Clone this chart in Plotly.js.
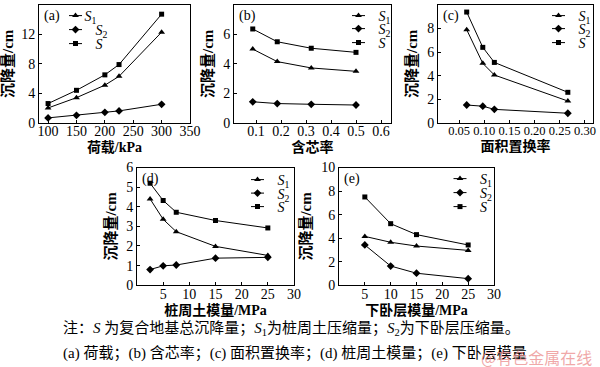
<!DOCTYPE html>
<html>
<head>
<meta charset="utf-8">
<script src="https://cdn.plot.ly/plotly-3.0.1.min.js"></script>
<style>html,body{margin:0;padding:0;background:#fff;}#chart{width:600px;height:367px;}</style>
</head>
<body>
<div id="chart"></div>
<script>
// ---- data ----
const seriesNames = ['<i>S</i><sub>1</sub>', '<i>S</i><sub>2</sub>', '<i>S</i>'];

const loadX  = [100, 150, 200, 225, 300];
const loadS1 = [2.0, 3.4, 5.1, 6.3, 12.3];
const loadS2 = [0.65, 1.0, 1.4, 1.6, 2.5];
const loadS  = [2.6, 4.4, 6.5, 7.9, 14.75];
const loadTicks = [100, 150, 200, 250, 300, 350];

const coreX  = [0.087, 0.185, 0.321, 0.5];
const coreS1 = [5.0, 4.15, 3.72, 3.49];
const coreS2 = [1.42, 1.3, 1.25, 1.2];
const coreS  = [6.37, 5.5, 5.06, 4.78];
const coreTicks = [0.1, 0.2, 0.3, 0.4, 0.5, 0.6];

const areaX  = [0.065, 0.097, 0.12, 0.266];
const areaS1 = [7.9, 5.04, 4.05, 1.84];
const areaS2 = [1.5, 1.4, 1.13, 0.8];
const areaS  = [9.4, 6.4, 5.12, 2.58];
const areaTicks = [0.05, 0.10, 0.15, 0.20, 0.25, 0.30];

const soilX  = [2.5, 5, 7.5, 15, 25];
const soilS1 = [4.4, 3.36, 2.73, 1.98, 1.52];
const soilS2 = [0.8, 0.99, 1.03, 1.38, 1.42];
const soilS  = [5.2, 4.32, 3.72, 3.3, 2.92];
const soilTicks = [5, 10, 15, 20, 25, 30];

const lowerX  = [5, 10, 15, 25];
const lowerS1 = [4.15, 3.65, 3.33, 2.96];
const lowerS2 = [3.42, 1.63, 1.02, 0.56];
const lowerS  = [7.5, 5.23, 4.3, 3.42];
const lowerTicks = [5, 10, 15, 20, 25, 30];

const panelLabels = ['(a)', '(b)', '(c)', '(d)', '(e)'];
const xTitles = ['荷载/kPa', '含芯率', '面积置换率', '桩周土模量/MPa', '下卧层模量/MPa'];
const yTitle = '沉降量/cm';
const captionLine1 = '注：<i>S</i> 为复合地基总沉降量；<i>S</i><sub>1</sub>为桩周土压缩量；<i>S</i><sub>2</sub>为下卧层压缩量。';
const captionLine2 = '(a) 荷载；(b) 含芯率；(c) 面积置换率；(d) 桩周土模量；(e) 下卧层模量';
const watermark = '@有色金属在线';

// ---- layout geometry (pixels in 600x367) ----
const W = 600, H = 367;
const boxes = [
  {l: 39,  r: 190, t: 4,   b: 122},
  {l: 234, r: 391, t: 4,   b: 122},
  {l: 438, r: 593, t: 4,   b: 122},
  {l: 137, r: 294, t: 167, b: 285},
  {l: 339, r: 494, t: 167, b: 285}
];
const panels = [
  {x: loadX,  ys: [loadS1, loadS2, loadS],    xr: [84, 350],      xt: loadTicks,  linear: false, xf: '',    xs: 14, yr: [0, 16], yd: 4},
  {x: coreX,  ys: [coreS1, coreS2, coreS],    xr: [0.012, 0.64],  xt: coreTicks,  linear: false, xf: '.1f', xs: 14, yr: [0, 8],  yd: 2},
  {x: areaX,  ys: [areaS1, areaS2, areaS],    xr: [0.008, 0.316], xt: areaTicks,  linear: true,  xf: '.2f', xs: 12.5, yr: [0, 10], yd: 2},
  {x: soilX,  ys: [soilS1, soilS2, soilS],    xr: [0, 30],        xt: soilTicks,  linear: false, xf: '',    xs: 14, yr: [0, 6],  yd: 1},
  {x: lowerX, ys: [lowerS1, lowerS2, lowerS], xr: [0, 30],        xt: lowerTicks, linear: false, xf: '',    xs: 14, yr: [0, 10], yd: 2}
];
// legend item anchors: marker centre x, first row y, row step
const legendPos = [
  {x: 75.5, y: 16,  dy: 14},
  {x: 358.5, y: 15, dy: 14},
  {x: 558.5, y: 15, dy: 14},
  {x: 257.5, y: 180, dy: 13.5},
  {x: 460, y: 179, dy: 14}
];
const markerSymbols = ['triangle-up', 'diamond', 'square'];
const serif = 'Liberation Serif';
const cjk = 'Liberation Serif, Noto Sans CJK SC';

const traces = [];
const layout = {
  width: W, height: H,
  margin: {l: 0, r: 0, t: 0, b: 0},
  paper_bgcolor: '#fff', plot_bgcolor: '#fff',
  showlegend: true,
  annotations: [],
  font: {family: serif, size: 14, color: '#000'}
};

panels.forEach((p, i) => {
  const n = i + 1;
  const xa = n === 1 ? 'x' : 'x' + n;
  const ya = n === 1 ? 'y' : 'y' + n;
  const bx = boxes[i];
  p.ys.forEach((ys, k) => {
    const legId = 'legend' + (i * 3 + k === 0 ? '' : (i * 3 + k + 1));
    traces.push({
      type: 'scatter', mode: 'lines+markers',
      x: p.x, y: ys, xaxis: xa, yaxis: ya,
      name: seriesNames[k], legend: legId,
      line: {color: '#000', width: 1},
      marker: {symbol: markerSymbols[k], size: k === 2 ? 5 : 6, color: '#000'},
      cliponaxis: false
    });
    const lp = legendPos[i];
    layout[legId] = {
      x: (lp.x - 20) / W, xanchor: 'left',
      y: 1 - (lp.y + k * lp.dy) / H, yanchor: 'middle',
      bgcolor: 'rgba(0,0,0,0)', borderwidth: 0,
      font: {family: serif, size: 14, color: '#000'},
      itemwidth: 30, tracegroupgap: 0
    };
  });
  const axCommon = {
    showline: true, linecolor: '#000', linewidth: 1, mirror: true,
    showgrid: false, zeroline: false,
    ticks: 'inside', ticklen: 3, tickcolor: '#000'
  };
  const xaxisObj = Object.assign({}, axCommon, {
    domain: [bx.l / W, bx.r / W], anchor: ya,
    range: p.xr, tickformat: p.xf,
    ticklabelstandoff: -4,
    tickfont: {family: serif, size: p.xs, color: '#000'},
    title: {text: xTitles[i], font: {family: cjk, size: 14, color: '#000', weight: 'bold'}, standoff: 0}
  });
  if (p.linear) {
    xaxisObj.tickmode = 'linear';
    xaxisObj.tick0 = p.xt[0];
    xaxisObj.dtick = +(p.xt[1] - p.xt[0]).toFixed(6);
  } else {
    xaxisObj.tickmode = 'array';
    xaxisObj.tickvals = p.xt;
    xaxisObj.tickangle = 0;
  }
  layout[n === 1 ? 'xaxis' : 'xaxis' + n] = xaxisObj;
  layout[n === 1 ? 'yaxis' : 'yaxis' + n] = Object.assign({}, axCommon, {
    domain: [1 - bx.b / H, 1 - bx.t / H], anchor: xa,
    range: p.yr, tick0: 0, dtick: p.yd,
    tickfont: {family: serif, size: 14, color: '#000'},
    title: {text: yTitle, font: {family: cjk, size: 15, color: '#000', weight: 'bold'}, standoff: 5}
  });
  layout.annotations.push({
    xref: 'paper', yref: 'paper', x: (bx.l + 3) / W, y: 1 - (bx.t + 11) / H,
    xanchor: 'left', yanchor: 'middle', showarrow: false,
    text: panelLabels[i], font: {family: serif, size: 14, color: '#000'}
  });
});

layout.annotations.push({
  xref: 'paper', yref: 'paper', x: 291 / W, y: 1 - 328 / H, xanchor: 'center', yanchor: 'middle',
  showarrow: false, text: captionLine1, font: {family: cjk, size: 15, color: '#000'}
});
layout.annotations.push({
  xref: 'paper', yref: 'paper', x: 295 / W, y: 1 - 353 / H, xanchor: 'center', yanchor: 'middle',
  showarrow: false, text: captionLine2, font: {family: cjk, size: 15, color: '#000'}
});
layout.annotations.push({
  xref: 'paper', yref: 'paper', x: 594 / W, y: 1 - 357 / H, xanchor: 'right', yanchor: 'middle',
  showarrow: false, text: watermark, font: {family: 'Noto Sans CJK SC', size: 16, color: 'rgba(235,140,140,0.75)'}
});

Plotly.newPlot('chart', traces, layout, {staticPlot: true}).then(gd => {
  // shorten legend sample lines to match the reference's compact legend
  gd.querySelectorAll('.legendlines path').forEach(p => p.setAttribute('d', 'M13.5,0h13'));
  gd.querySelectorAll('.legendtext').forEach(t => t.setAttribute('x', 29));
});
</script>
</body>
</html>
